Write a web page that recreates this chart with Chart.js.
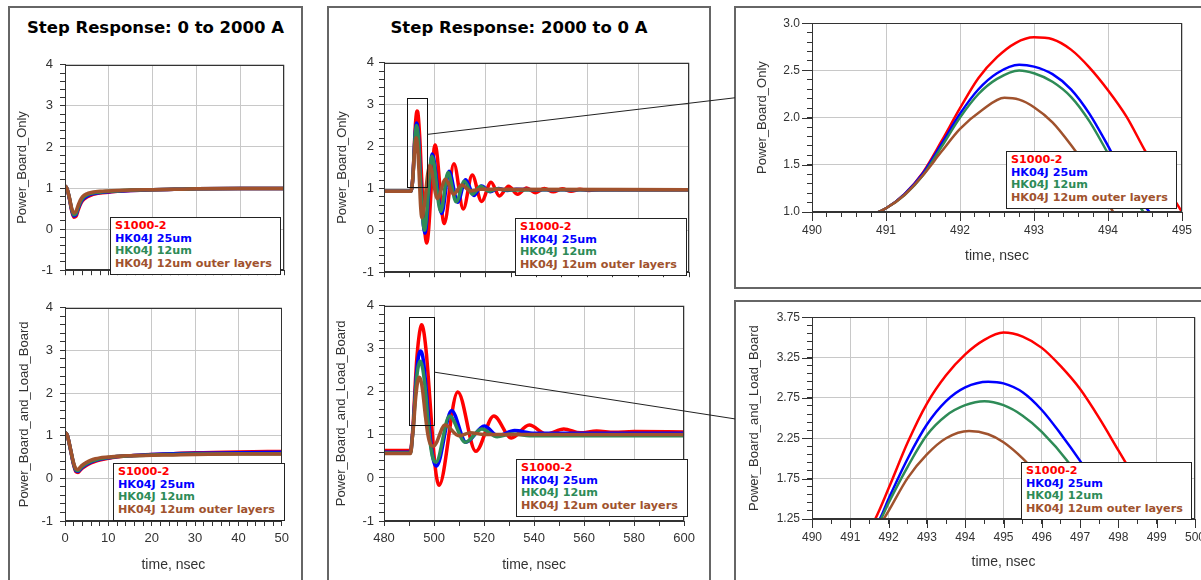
<!DOCTYPE html>
<html>
<head>
<meta charset="utf-8">
<script src="https://cdn.jsdelivr.net/npm/chart.js@4.4.1/dist/chart.umd.min.js"></script>
<style>
  html, body { margin: 0; padding: 0; background: #fff; }
  body { width: 1201px; height: 580px; overflow: hidden; position: relative; font-family: "Liberation Sans", Arial, sans-serif; }
  .panel { position: absolute; border: 2px solid #666; box-sizing: border-box; }
  .title { position: absolute; font: bold 16.5px "DejaVu Sans", sans-serif; color: #000; text-align: center; line-height: 20px; }
  canvas { position: absolute; }
  .legend { position: absolute; background: #fff; border: 1px solid #222; box-sizing: border-box; padding: 2px 4px;
            font: bold 11.2px "DejaVu Sans", sans-serif; line-height: 12.7px; white-space: nowrap; }
  #links { position: absolute; left: 0; top: 0; pointer-events: none; }
</style>
</head>
<body>
<div class="panel" id="panelLeft" style="left:8px;top:6px;width:295px;height:600px"></div>
<div class="panel" id="panelMid" style="left:327px;top:6px;width:384px;height:600px"></div>
<div class="panel" id="panelZoomTop" style="left:734px;top:6px;width:500px;height:283px"></div>
<div class="panel" id="panelZoomBot" style="left:734px;top:300px;width:500px;height:300px"></div>
<div class="title" style="left:8px;top:18px;width:295px">Step Response: 0 to 2000 A</div>
<div class="title" style="left:327px;top:18px;width:384px">Step Response: 2000 to 0 A</div>

<script>
// series names and colours
const seriesNames = ['S1000-2', 'HK04J 25um', 'HK04J 12um', 'HK04J 12um outer layers'];
const seriesColors = ['#ff0000', '#0000ff', '#2e8b57', '#a0522d'];

// ---- 0 to 2000 A (time, nsec) ----
const onTime = [0, 0.5, 1, 1.5, 2, 2.5, 3, 3.5, 4, 5, 6, 7, 8, 10, 12, 15, 20, 25, 30, 40, 50];
const onPbRed   = [1.06, 0.97, 0.74, 0.46, 0.29, 0.31, 0.46, 0.60, 0.69, 0.78, 0.83, 0.86, 0.88, 0.90, 0.92, 0.94, 0.96, 0.97, 0.98, 0.99, 0.99];
const onPbBlue  = [1.06, 0.97, 0.75, 0.48, 0.32, 0.35, 0.50, 0.63, 0.72, 0.80, 0.85, 0.87, 0.89, 0.91, 0.93, 0.94, 0.96, 0.97, 0.98, 0.99, 0.99];
const onPbGreen = [1.06, 0.97, 0.76, 0.50, 0.35, 0.38, 0.53, 0.66, 0.75, 0.83, 0.87, 0.89, 0.90, 0.92, 0.93, 0.95, 0.96, 0.97, 0.98, 0.99, 0.99];
const onPbBrown = [1.06, 0.97, 0.77, 0.52, 0.39, 0.43, 0.58, 0.71, 0.79, 0.86, 0.89, 0.91, 0.92, 0.93, 0.94, 0.95, 0.96, 0.97, 0.98, 0.99, 0.99];

const onLbRed   = [1.08, 1.02, 0.80, 0.55, 0.31, 0.16, 0.14, 0.19, 0.24, 0.31, 0.36, 0.40, 0.43, 0.47, 0.50, 0.53, 0.56, 0.58, 0.60, 0.62, 0.63];
const onLbBlue  = [1.08, 1.02, 0.81, 0.56, 0.33, 0.18, 0.16, 0.21, 0.26, 0.33, 0.38, 0.42, 0.45, 0.48, 0.51, 0.53, 0.56, 0.58, 0.59, 0.60, 0.61];
const onLbGreen = [1.08, 1.02, 0.81, 0.57, 0.34, 0.20, 0.18, 0.23, 0.28, 0.35, 0.40, 0.43, 0.46, 0.49, 0.51, 0.53, 0.55, 0.56, 0.57, 0.58, 0.58];
const onLbBrown = [1.08, 1.02, 0.82, 0.58, 0.36, 0.23, 0.21, 0.26, 0.31, 0.38, 0.43, 0.46, 0.48, 0.50, 0.52, 0.53, 0.54, 0.55, 0.56, 0.57, 0.57];

// ---- 2000 to 0 A, Power_Board_Only ----
const offPbRedT = [480, 490.5, 490.75, 491, 491.25, 491.5, 491.75, 492, 492.25, 492.5, 492.75, 493, 493.25, 493.5, 493.75, 494, 494.25, 494.5, 494.75, 495,
  495.5, 496, 496.8, 500.1, 503.7, 507.5, 511.2, 514.7, 518.4, 522.1, 525.4, 529, 532.6, 536.1, 539.6, 543.1, 546.6, 550.1, 553.6, 557.1, 560.6, 565, 600];
const offPbRed = [0.93, 0.93, 0.96, 1.04, 1.19, 1.42, 1.75, 2.10, 2.42, 2.64, 2.79, 2.85, 2.83, 2.72, 2.53, 2.29, 2.01, 1.65, 1.32, 1.0,
  0.42, 0.0, -0.30, 2.04, 0.16, 1.59, 0.51, 1.32, 0.69, 1.15, 0.82, 1.05, 0.86, 1.01, 0.90, 1.00, 0.92, 0.99, 0.93, 0.98, 0.95, 0.97, 0.97];

const offPbBlueT = [480, 490.5, 490.75, 491, 491.25, 491.5, 491.75, 492, 492.25, 492.5, 492.8, 493, 493.25, 493.5, 493.75, 494, 494.25, 494.56, 495, 495.5,
  496.1, 499, 502.7, 505.6, 509, 512.1, 515.4, 518.4, 521.8, 525, 528.5, 532, 540, 600];
const offPbBlue = [0.93, 0.93, 0.96, 1.04, 1.19, 1.41, 1.72, 2.04, 2.30, 2.47, 2.56, 2.54, 2.46, 2.30, 2.04, 1.70, 1.33, 1.0, 0.52, 0.12,
  -0.07, 1.82, 0.40, 1.41, 0.67, 1.21, 0.83, 1.06, 0.92, 1.00, 0.95, 0.98, 0.97, 0.97];

const offPbGreenT = [480, 490.5, 490.75, 491, 491.25, 491.5, 491.75, 492, 492.25, 492.5, 492.8, 493, 493.25, 493.5, 493.75, 494, 494.25, 494.48, 495, 495.9,
  498.9, 502.3, 505.2, 508.4, 511.6, 514.8, 518, 521.3, 524.5, 528, 540, 600];
const offPbGreen = [0.93, 0.93, 0.96, 1.04, 1.18, 1.39, 1.69, 2.00, 2.25, 2.41, 2.50, 2.47, 2.38, 2.22, 1.96, 1.62, 1.27, 1.0, 0.50, 0.0,
  1.77, 0.45, 1.38, 0.68, 1.17, 0.86, 1.05, 0.93, 0.99, 0.96, 0.97, 0.97];

const offPbBrownT = [480, 490.5, 490.75, 491, 491.25, 491.5, 491.75, 492, 492.3, 492.6, 492.8, 493, 493.25, 493.5, 493.75, 494.07, 494.4, 494.9, 498, 501,
  504.2, 507.4, 510.6, 514, 518, 600];
const offPbBrown = [0.93, 0.93, 0.96, 1.04, 1.18, 1.39, 1.64, 1.88, 2.08, 2.21, 2.19, 2.11, 1.95, 1.71, 1.43, 1.0, 0.58, 0.30, 1.55, 0.76,
  1.22, 0.86, 1.08, 0.94, 0.98, 0.97];

// ---- 2000 to 0 A, Power_Board_and_Load_Board ----
const offLbRedT = [480, 490.6, 490.9, 491.2, 491.65, 492, 492.5, 493, 493.5, 494, 494.5, 495, 495.5, 496, 496.5, 497, 497.5, 498, 498.5, 499,
  500, 501, 502, 509.5, 516.7, 523.9, 530.9, 538.1, 544.9, 551.9, 558.5, 565, 572, 580, 600];
const offLbRed = [0.64, 0.64, 0.72, 0.90, 1.25, 1.63, 2.20, 2.68, 3.03, 3.29, 3.47, 3.56, 3.51, 3.37, 3.14, 2.86, 2.50, 2.10, 1.70, 1.28,
  0.53, 0.02, -0.17, 2.00, 0.62, 1.44, 0.93, 1.23, 1.02, 1.14, 1.05, 1.09, 1.06, 1.08, 1.07];

const offLbBlueT = [480, 490.6, 490.9, 491.2, 491.77, 492, 492.5, 493, 493.5, 494, 494.6, 495, 495.5, 496, 496.5, 497, 498, 499, 500, 501,
  507, 512.8, 520.1, 525.6, 532.2, 540, 600];
const offLbBlue = [0.60, 0.60, 0.68, 0.88, 1.25, 1.50, 2.00, 2.42, 2.71, 2.88, 2.95, 2.93, 2.82, 2.60, 2.30, 1.97, 1.25, 0.68, 0.36, 0.28,
  1.57, 0.83, 1.21, 0.98, 1.10, 1.04, 1.04];

const offLbGreenT = [480, 490.6, 490.9, 491.2, 491.8, 492, 492.5, 493, 493.5, 494, 494.5, 495, 495.5, 496, 496.7, 497.5, 498.5, 499.5, 500.8, 506.2,
  512.5, 519.1, 525.2, 531, 540, 600];
const offLbGreen = [0.58, 0.58, 0.66, 0.86, 1.25, 1.45, 1.90, 2.29, 2.53, 2.66, 2.71, 2.66, 2.53, 2.33, 1.95, 1.38, 0.80, 0.47, 0.37, 1.44,
  0.83, 1.14, 0.96, 1.02, 0.98, 0.98];

const offLbBrownT = [480, 490.6, 490.9, 491.2, 491.87, 492.5, 493, 493.5, 494.1, 494.6, 495, 495.5, 496, 496.5, 497.5, 498.5, 499.8, 504.4, 509.9, 514.5,
  520, 600];
const offLbBrown = [0.57, 0.57, 0.65, 0.85, 1.25, 1.76, 2.05, 2.25, 2.34, 2.30, 2.20, 2.00, 1.74, 1.47, 1.02, 0.79, 0.74, 1.23, 0.98, 1.05,
  1.01, 1.01];

// tick labels
const onTimeLabels = [0, 10, 20, 30, 40, 50];
const offTimeLabels = [480, 500, 520, 540, 560, 580, 600];
const levelLabels = [-1, 0, 1, 2, 3, 4];
const zoomTopTimeLabels = [490, 491, 492, 493, 494, 495];
const zoomTopLevelLabels = ['1.0', '1.5', '2.0', '2.5', '3.0'];
const zoomBotTimeLabels = [490, 491, 492, 493, 494, 495, 496, 497, 498, 499, 500];
const zoomBotLevelLabels = ['1.25', '1.75', '2.25', '2.75', '3.25', '3.75'];

// zoom windows drawn on the middle plots [t0, t1, v0, v1], and link levels [on box edge, on zoom plot]
const pbZoomBox = [489.2, 497.0, 1.05, 3.17];
const lbZoomBox = [490, 500, 1.25, 3.75];
const pbLink = [2.29, 2.21];
const lbLink = [2.46, 2.49];

const GRID = '#c8c8c8';
const AXIS = '#333';

function tickList(a, b, step) {
  const out = [];
  for (let k = 0; a + k * step <= b + 1e-9; k++) out.push(+(a + k * step).toFixed(6));
  return out;
}
function findLabel(v, labels) {
  const hit = labels.find(l => Math.abs(parseFloat(l) - v) < 1e-6);
  return hit === undefined ? null : String(hit);
}
function pts(t, v) {
  return t.map((x, i) => ({ x: x, y: v[i] }));
}

// frame round the plot, zoom window, longer marks at labelled ticks
const framePlugin = {
  id: 'frame',
  afterDatasetsDraw(chart, args, opts) {
    const { ctx, chartArea: a } = chart;
    const x = chart.scales.x, y = chart.scales.y;
    ctx.save();
    ctx.strokeStyle = AXIS;
    ctx.lineWidth = 1;
    ctx.strokeRect(Math.round(a.left) + 0.5, Math.round(a.top) + 0.5, Math.round(a.width) - 1, Math.round(a.height) - 1);
    if (opts.longTicks) {
      ctx.beginPath();
      x.ticks.filter(t => t.lab).forEach(t => {
        const px = Math.round(x.getPixelForValue(t.value)) + 0.5;
        ctx.moveTo(px, a.bottom); ctx.lineTo(px, a.bottom + 9);
      });
      y.ticks.filter(t => t.lab).forEach(t => {
        const py = Math.round(y.getPixelForValue(t.value)) + 0.5;
        ctx.moveTo(a.left, py); ctx.lineTo(a.left - 10, py);
      });
      ctx.stroke();
    }
    if (opts.box) {
      const x0 = x.getPixelForValue(opts.box[0]), x1 = x.getPixelForValue(opts.box[1]);
      const y0 = y.getPixelForValue(opts.box[3]), y1 = y.getPixelForValue(opts.box[2]);
      ctx.strokeStyle = '#111';
      ctx.strokeRect(Math.round(x0) + 0.5, Math.round(y0) + 0.5, Math.round(x1 - x0), Math.round(y1 - y0));
    }
    ctx.restore();
  }
};

function makeChart(s) {
  const cv = document.createElement('canvas');
  cv.width = s.w; cv.height = s.h;
  cv.style.left = s.left + 'px'; cv.style.top = s.top + 'px';
  cv.style.width = s.w + 'px'; cv.style.height = s.h + 'px';
  document.body.appendChild(cv);

  const datasets = s.series.map((d, i) => ({
    label: seriesNames[i],
    data: pts(d[0], d[1]),
    borderColor: seriesColors[i],
    backgroundColor: seriesColors[i],
    borderWidth: s.lw,
    pointRadius: 0,
    cubicInterpolationMode: 'monotone',
    fill: false,
    order: 4 - i,
    clip: s.clip
  }));

  const axisTicks = (list, labels) => ax => {
    ax.ticks = list.map(v => ({ value: v, lab: findLabel(v, labels) !== null }));
  };
  const gridColor = ctx => (ctx.tick && ctx.tick.lab ? GRID : 'rgba(0,0,0,0)');

  return new Chart(cv, {
    type: 'line',
    data: { datasets },
    plugins: [framePlugin],
    options: {
      responsive: false,
      animation: false,
      events: [],
      layout: { padding: { left: 0, right: s.padR, top: s.padT, bottom: 0 } },
      plugins: {
        legend: { display: false },
        tooltip: { enabled: false },
        frame: { box: s.box || null, longTicks: !!s.longTicks }
      },
      scales: {
        x: {
          type: 'linear', min: s.x[0], max: s.x[1],
          afterBuildTicks: axisTicks(tickList(s.x[0], s.x[1], s.x[2]), s.xLabels),
          afterFit: ax => { ax.height = s.xH; },
          ticks: {
            autoSkip: false, maxRotation: 0, minRotation: 0, padding: s.xPad,
            color: AXIS, font: { family: 'Liberation Sans', size: s.tickSize },
            callback: v => (s.showX ? (findLabel(v, s.xLabels) || '') : '')
          },
          grid: { color: gridColor, tickColor: AXIS, tickLength: 5, lineWidth: 1 },
          border: { display: true, color: AXIS },
          title: {
            display: !!s.xTitle, text: s.xTitle || '', color: AXIS,
            font: { family: 'Liberation Sans', size: 14 }, padding: { top: 0, bottom: s.xTitlePad }
          }
        },
        y: {
          type: 'linear', min: s.y[0], max: s.y[1],
          afterBuildTicks: axisTicks(tickList(s.y[0], s.y[1], s.y[2]), s.yLabels),
          afterFit: ax => { ax.width = s.yW; },
          ticks: {
            autoSkip: false, padding: s.yPad,
            color: AXIS, font: { family: 'Liberation Sans', size: s.tickSize },
            callback: v => findLabel(v, s.yLabels) || ''
          },
          grid: { color: gridColor, tickColor: AXIS, tickLength: 5, lineWidth: 1 },
          border: { display: true, color: AXIS },
          title: {
            display: true, text: s.yTitle, color: AXIS,
            font: { family: 'Liberation Sans', size: 13 }, padding: { top: s.yTitlePad, bottom: 0 }
          }
        }
      }
    }
  });
}

function addLegend(left, top, width) {
  const div = document.createElement('div');
  div.className = 'legend';
  div.style.left = left + 'px'; div.style.top = top + 'px';
  div.style.width = width + 'px'; div.style.height = '58px';
  seriesNames.forEach((n, i) => {
    const line = document.createElement('div');
    line.textContent = n;
    line.style.color = seriesColors[i];
    div.appendChild(line);
  });
  document.body.appendChild(div);
}

const onPb = [[onTime, onPbRed], [onTime, onPbBlue], [onTime, onPbGreen], [onTime, onPbBrown]];
const onLb = [[onTime, onLbRed], [onTime, onLbBlue], [onTime, onLbGreen], [onTime, onLbBrown]];
const offPb = [[offPbRedT, offPbRed], [offPbBlueT, offPbBlue], [offPbGreenT, offPbGreen], [offPbBrownT, offPbBrown]];
const offLb = [[offLbRedT, offLbRed], [offLbBlueT, offLbBlue], [offLbGreenT, offLbGreen], [offLbBrownT, offLbBrown]];

const common = { lw: 3.5, tickSize: 13, clip: undefined };

makeChart(Object.assign({}, common, {
  left: 9, top: 50, w: 285, h: 235, padR: 10, padT: 11, yW: 56, xH: 8, yPad: 7, xPad: 4,
  series: onPb, x: [0, 50, 2], xLabels: onTimeLabels, showX: false, y: [-1, 4, 0.2], yLabels: levelLabels,
  yTitle: 'Power_Board_Only', yTitlePad: 6
}));
makeChart(Object.assign({}, common, {
  left: 9, top: 293, w: 285, h: 287, padR: 10, padT: 11, yW: 56, xH: 59, yPad: 7, xPad: 5,
  series: onLb, x: [0, 50, 2], xLabels: onTimeLabels, showX: true, y: [-1, 4, 0.2], yLabels: levelLabels,
  yTitle: 'Power_Board_and_Load_Board', yTitlePad: 7.6, xTitle: 'time, nsec', xTitlePad: 6.6
}));
const midTop = makeChart(Object.assign({}, common, {
  left: 329, top: 50, w: 371, h: 235, padR: 11, padT: 11, yW: 55, xH: 8, yPad: 5, xPad: 4,
  series: offPb, x: [480, 600, 10], xLabels: offTimeLabels, showX: false, y: [-1, 4, 0.2], yLabels: levelLabels,
  yTitle: 'Power_Board_Only', yTitlePad: 5.6, box: pbZoomBox
}));
const midBot = makeChart(Object.assign({}, common, {
  left: 329, top: 293, w: 371, h: 287, padR: 11, padT: 11, yW: 55, xH: 59, yPad: 5, xPad: 5,
  series: offLb, x: [480, 600, 10], xLabels: offTimeLabels, showX: true, y: [-1, 4, 0.2], yLabels: levelLabels,
  yTitle: 'Power_Board_and_Load_Board', yTitlePad: 4.6, xTitle: 'time, nsec', xTitlePad: 6.6, box: lbZoomBox
}));
const zoomTop = makeChart({
  lw: 2.5, tickSize: 12, clip: 0, longTicks: true,
  left: 737, top: 9, w: 464, h: 279, padR: 19, padT: 11, yW: 75, xH: 76, yPad: 7, xPad: 6,
  series: offPb, x: [490, 495, 0.2], xLabels: zoomTopTimeLabels, showX: true, y: [1, 3, 0.1], yLabels: zoomTopLevelLabels,
  yTitle: 'Power_Board_Only', yTitlePad: 17.6, xTitle: 'time, nsec', xTitlePad: 23.6
});
const zoomBot = makeChart({
  lw: 2.5, tickSize: 12, clip: 0, longTicks: true,
  left: 737, top: 303, w: 478, h: 277, padR: 20, padT: 11, yW: 75, xH: 61, yPad: 7, xPad: 6,
  series: offLb, x: [490, 500, 0.5], xLabels: zoomBotTimeLabels, showX: true, y: [1.25, 3.75, 0.1], yLabels: zoomBotLevelLabels,
  yTitle: 'Power_Board_and_Load_Board', yTitlePad: 9.6, xTitle: 'time, nsec', xTitlePad: 9.6
});

addLegend(110, 217, 171);
addLegend(113, 463, 172);
addLegend(515, 218, 172);
addLegend(516, 459, 172);
addLegend(1006, 151, 171);
addLegend(1021, 462, 171);

// connector lines from the zoom windows to the zoomed plots
function pagePoint(chart, xv, yv) {
  const r = chart.canvas.getBoundingClientRect();
  return [r.left + chart.scales.x.getPixelForValue(xv), r.top + chart.scales.y.getPixelForValue(yv)];
}
const svgNS = 'http://www.w3.org/2000/svg';
const svg = document.createElementNS(svgNS, 'svg');
svg.setAttribute('id', 'links');
svg.setAttribute('width', 1201);
svg.setAttribute('height', 580);
function link(fromChart, box, lv, toChart, panelId) {
  const a = pagePoint(fromChart, box[1], lv[0]);
  const b = pagePoint(toChart, 490, lv[1]);
  const px = document.getElementById(panelId).getBoundingClientRect().left + 1;
  const ln = document.createElementNS(svgNS, 'line');
  ln.setAttribute('x1', a[0]); ln.setAttribute('y1', a[1]);
  ln.setAttribute('x2', px); ln.setAttribute('y2', b[1]);
  ln.setAttribute('stroke', '#222'); ln.setAttribute('stroke-width', 1);
  svg.appendChild(ln);
}
link(midTop, pbZoomBox, pbLink, zoomTop, 'panelZoomTop');
link(midBot, lbZoomBox, lbLink, zoomBot, 'panelZoomBot');
document.body.appendChild(svg);
</script>
</body>
</html>
